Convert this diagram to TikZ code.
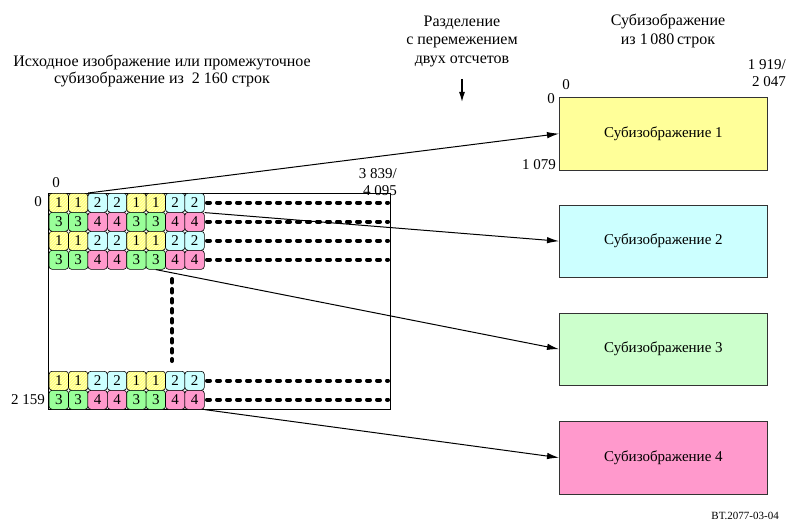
\documentclass[tikz,border=0pt]{standalone}
\usepackage{fontspec}
\setmainfont{Liberation Serif}
\usetikzlibrary{patterns,arrows.meta}
\definecolor{cY}{HTML}{FFFF80}
\definecolor{cC}{HTML}{CCFFFF}
\definecolor{cG}{HTML}{99FF99}
\definecolor{cP}{HTML}{FF99CC}
\definecolor{bY}{HTML}{FFFF99}
\definecolor{bC}{HTML}{CCFFFF}
\definecolor{bG}{HTML}{CCFFCC}
\definecolor{bP}{HTML}{FF99CC}
\begin{document}
\begin{tikzpicture}[x=1pt,y=-1pt,
  lbl/.style={font=\fontsize{15}{17}\selectfont,inner sep=0pt,align=center},
  hdr/.style={font=\fontsize{16}{18.5}\selectfont,inner sep=0pt,align=center},
  cell/.style={draw=black,line width=0.6pt,rounded corners=3pt,minimum width=19.4pt,minimum height=19pt,inner sep=0pt,anchor=north west,font=\fontsize{15}{15}\selectfont},
  c1/.style={cell,preaction={fill=cY},pattern=north east lines,pattern color=white!55!cY},
  c2/.style={cell,fill=cC},
  c3/.style={cell,fill=cG},
  c4/.style={cell,fill=cP},
  sub/.style={draw=black!80,line width=0.8pt,minimum width=208pt,minimum height=72.5pt,inner sep=0pt,anchor=north west,font=\fontsize{15}{17}\selectfont},
  dots/.style={line width=4pt,line cap=round,dash pattern=on 3pt off 7pt},
  arr/.style={line width=1pt,-{Latex[length=12pt,width=6.5pt]}}
]
\useasboundingbox (0,0) rectangle (786,532);
% big frame
\node[draw=black,line width=0.8pt,minimum width=342pt,minimum height=216pt,inner sep=0pt,anchor=north west] (frame) at (48,193) {};
% cells
\foreach \r/\y/\a/\b in {1/193/1/2,2/212/3/4,3/231/1/2,4/250/3/4,5/371/1/2,6/390/3/4}{
  \foreach \k in {0,...,7}{
    \pgfmathtruncatemacro{\g}{mod(floor(\k/2),2)}
    \ifnum\g=0 \def\n{\a}\else\def\n{\b}\fi
    \node[c\n] (c\r-\k) at ({48.8+19.4*\k},\y) {\n};
  }
  \coordinate (e\r) at ({48.8+19.4*8+3},{\y+9.5});
  \coordinate (f\r) at (388,{\y+9.5});
  \draw[dots] (e\r) -- (f\r);
}
\coordinate (v1) at (172,279);
\coordinate (v2) at (172,361);
\draw[line width=4pt,line cap=round,dash pattern=on 3.5pt off 6.5pt] (v1) -- (v2);
% sub-images
\node[sub,fill=bY] (s1) at (559,97) {Субизображение 1};
\node[sub,fill=bC] (s2) at (559,204.5) {Субизображение 2};
\node[sub,fill=bG] (s3) at (559,312.5) {Субизображение 3};
\node[sub,fill=bP] (s4) at (559,421) {Субизображение 4};
% arrows
\draw[arr] (c1-1.north east) -- (s1.west);
\draw[arr] (c1-7.south east) -- (s2.west);
\draw[arr] (c4-5.south) -- (s3.west);
\draw[arr] (c6-7.south east) -- (s4.west);
% labels
\node[hdr,font=\fontsize{16}{17}\selectfont] (t1) at (162,71) {Исходное изображение или промежуточное\\субизображение из \ 2 160 строк};
\node[hdr] (t2) at (462,41) {Разделение\\с перемежением\\двух отсчетов};
\coordinate (d1) at (462,79);
\coordinate (d2) at (462,102);
\draw[line width=1.2pt,-{Latex[length=10pt,width=6pt]}] (d1) -- (d2);
\node[hdr] (t3) at (668,31) {Субизображение\\из 1\,080\,строк};
\node[lbl,anchor=base] (z1) at (56,187) {0};
\node[lbl,anchor=base east] (z2) at (42,206) {0};
\node[lbl,anchor=base east] (z3) at (45,404) {2 159};
\node[lbl,anchor=north east,align=right] (z4) at (397,168) {3 839/\\4 095};
\node[lbl,anchor=base] (z5) at (566,90) {0};
\node[lbl,anchor=base east] (z6) at (555,103) {0};
\node[lbl,anchor=base east] (z7) at (556,169) {1 079};
\node[lbl,anchor=north east,align=right] (z8) at (786,59) {1 919/\\2 047};
\node[anchor=base east,inner sep=0pt,font=\fontsize{11}{11}\selectfont] (bt) at (779,519) {BT.2077-03-04};
\end{tikzpicture}
\end{document}
